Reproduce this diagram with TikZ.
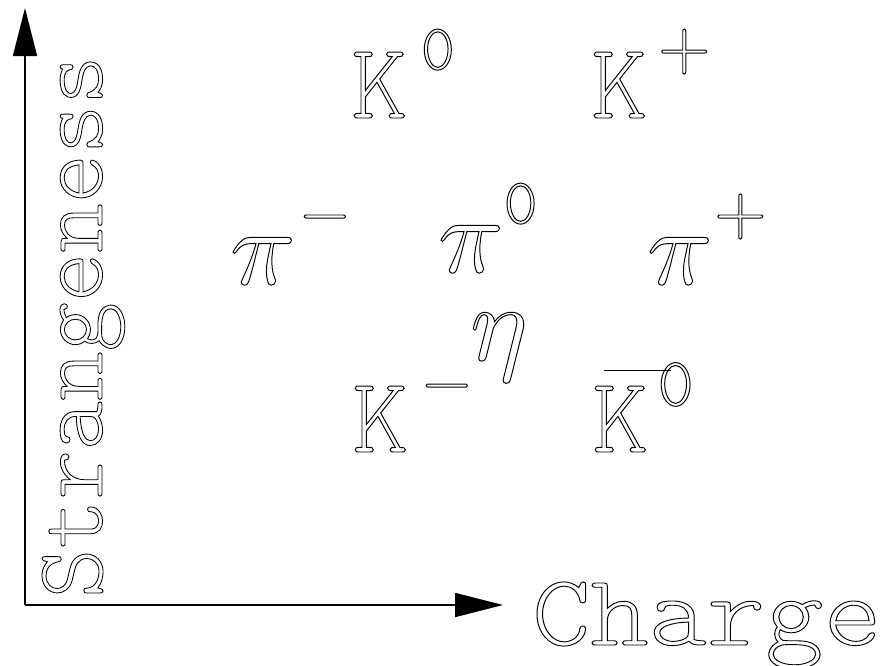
\documentclass[tikz,border=0pt]{standalone}
\usepackage{fontspec}
\newfontfamily\lmlight{lmmonolt10-regular.otf}
\usetikzlibrary{arrows.meta}
\newcommand\upnum[3]{\raisebox{#1}{\fontsize{#2}{#2}\selectfont #3}}
\newcommand\upmath[3]{\raisebox{#1}{\fontsize{#2}{#2}\selectfont$#3$}}
\newcommand\outlinetext{\special{pdf:literal direct 1 Tr 0.09 w}}
\begin{document}
\begin{tikzpicture}[x=1pt,y=-1pt,
  axis/.style={line width=1.6pt,-{Triangle[length=48pt,width=24pt]}},
  lbl/.style={inner sep=0pt,anchor=base west,scale=10.8,font=\lmlight\outlinetext}]
\useasboundingbox (0,0) rectangle (880,665);
\coordinate (o) at (25,605);
\coordinate (ytip) at (25,8);
\coordinate (xtip) at (503,605);
\draw[axis] (o) -- (ytip);
\draw[axis] (o) -- (xtip);
\node[inner sep=0pt,anchor=base west,font=\lmlight\outlinetext,xscale=11.1,yscale=10.15] (charge) at (530,645) {Charge};
\node[inner sep=0pt,anchor=base west,font=\lmlight\outlinetext,rotate=90,xscale=9.4,yscale=9.65] (strange) at (102,600) {Strangeness};
\node[lbl] (k0) at (349,118) {K\kern1.2pt\upnum{4.5pt}{6}{0}};
\node[lbl] (kp) at (589,118) {K\kern0.8pt\upmath{4.9pt}{4.8}{+}};
\node[lbl] (pim) at (228,284) {$\pi$\upmath{5pt}{4.7}{-}};
\node[lbl] (pi0) at (436,272) {$\pi$\upnum{4.5pt}{6}{0}};
\node[lbl] (pip) at (645,284) {$\pi$\upmath{5pt}{4.8}{+}};
\node[lbl] (eta) at (468,360) {$\eta$};
\node[lbl] (km) at (350,452) {K\kern0.8pt\upmath{4.9pt}{4.7}{-}};
\node[lbl] (kb0) at (590,452) {\rlap{\kern1.1pt\rule[7.5pt]{6.2pt}{0.12pt}}K\kern0.8pt\upnum{4.3pt}{6.4}{0}};
\end{tikzpicture}
\end{document}
